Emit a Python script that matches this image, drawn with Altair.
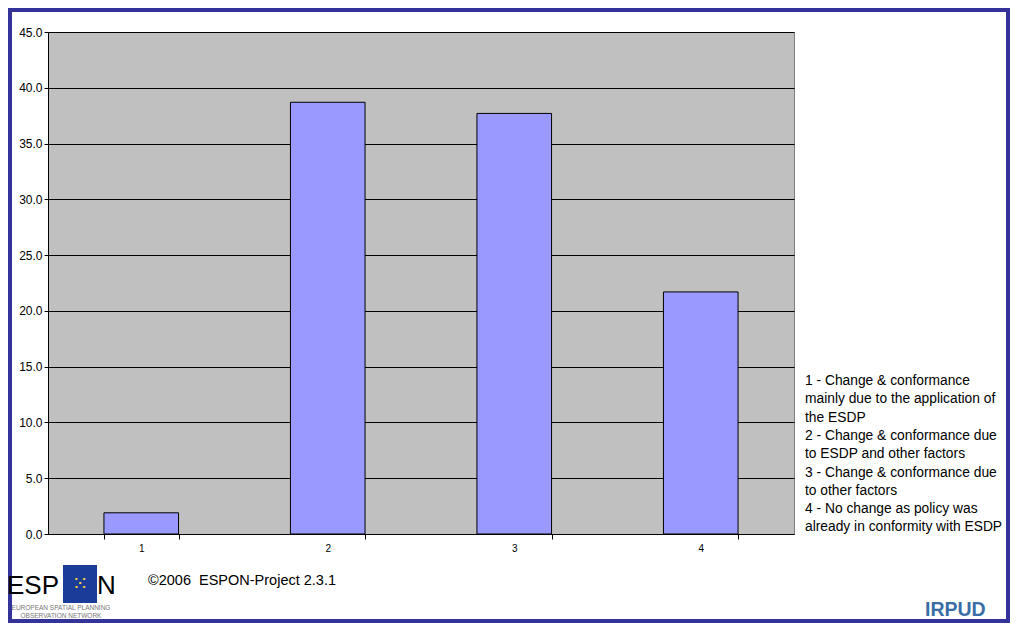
import altair as alt
import pandas as pd

# ---- data ----
categories = ["1", "2", "3", "4"]
values = [1.9, 38.7, 37.7, 21.7]
y_ticks = [0, 5, 10, 15, 20, 25, 30, 35, 40, 45]
note_lines = [
    "1 - Change & conformance",
    "mainly due to the application of",
    "the ESDP",
    "2 - Change & conformance due",
    "to ESDP and other factors",
    "3 - Change & conformance due",
    "to other factors",
    "4 - No change as policy was",
    "already in conformity with ESDP",
]
copyright_text = "\u00a92006\u00a0\u00a0ESPON-Project 2.3.1"
logo_left = "ESP"
logo_right = "N"
logo_sub = ["EUROPEAN SPATIAL PLANNING", "OBSERVATION NETWORK"]
irpud_text = "IRPUD"

FONT = "Liberation Sans"

df = pd.DataFrame({"cat": categories, "val": values})
one = pd.DataFrame({"k": [0]})

bars = alt.Chart(df).mark_bar(color="#9999FF", stroke="black", strokeWidth=1).encode(
    x=alt.X(
        "cat:N",
        sort=categories,
        title=None,
        scale=alt.Scale(paddingInner=0.6, paddingOuter=0.3),
        axis=alt.Axis(
            labelAngle=0, tickBand="extent", grid=False, tickSize=5,
            labelPadding=4, labelFontSize=10, domainColor="black",
            tickColor="black", labelColor="black", labelFont=FONT,
        ),
    ),
    y=alt.Y(
        "val:Q",
        title=None,
        scale=alt.Scale(domain=[0, 45], nice=False),
        axis=alt.Axis(
            values=y_ticks, format=".1f", grid=True, gridColor="black",
            gridOpacity=1, gridWidth=1, tickSize=4, labelPadding=2,
            labelFontSize=12, domainColor="black", tickColor="black",
            labelColor="black", labelFont=FONT,
        ),
    ),
)

frame = alt.Chart(one).mark_rect(
    filled=False, stroke="#333399", strokeWidth=4, clip=False
).encode(
    x=alt.value(-38), x2=alt.value(960),
    y=alt.value(-22), y2=alt.value(589),
)

note = alt.Chart(one).mark_text(
    align="left", baseline="alphabetic", fontSize=13.8, font=FONT,
    color="black", lineHeight=18.3,
).encode(x=alt.value(757), y=alt.value(353), text=alt.value(note_lines))

copyright_mark = alt.Chart(one).mark_text(
    align="left", baseline="alphabetic", fontSize=14.5, font=FONT, color="black",
).encode(x=alt.value(100), y=alt.value(553), text=alt.value(copyright_text))

logo_box = alt.Chart(one).mark_rect(color="#1C3C9A").encode(
    x=alt.value(15), x2=alt.value(49), y=alt.value(533), y2=alt.value(571),
)
logo_esp = alt.Chart(one).mark_text(
    align="left", baseline="alphabetic", fontSize=26, font=FONT, color="black",
).encode(x=alt.value(-41), y=alt.value(562), text=alt.value(logo_left))
logo_n = alt.Chart(one).mark_text(
    align="left", baseline="alphabetic", fontSize=26, font=FONT, color="black",
).encode(x=alt.value(49), y=alt.value(562), text=alt.value(logo_right))
logo_stars = alt.Chart(one).mark_text(
    align="center", baseline="middle", fontSize=20, font="DejaVu Sans",
    color="#F2D23C",
).encode(x=alt.value(32), y=alt.value(552), text=alt.value("\u2059"))
logo_subtext = alt.Chart(one).mark_text(
    align="center", baseline="alphabetic", fontSize=6.5, font=FONT,
    color="#777777", lineHeight=7.5,
).encode(x=alt.value(13), y=alt.value(578), text=alt.value(logo_sub))

irpud = alt.Chart(one).mark_text(
    align="left", baseline="alphabetic", fontSize=19.5, font=FONT,
    fontWeight="bold", color="#3A6EA5",
).encode(x=alt.value(877), y=alt.value(584), text=alt.value(irpud_text))

chart = alt.layer(
    bars, frame, note, copyright_mark, logo_box, logo_esp, logo_n,
    logo_stars, logo_subtext, irpud,
).properties(
    width=746, height=502,
    padding={"left": 40, "top": 24, "right": 216, "bottom": 89},
    autosize=alt.AutoSizeParams(type="none"),
    background="white",
).configure_view(
    fill="#C0C0C0", stroke="#808080", strokeWidth=1,
)

chart.save("out.html", embed_options={"renderer": "svg", "actions": False})
